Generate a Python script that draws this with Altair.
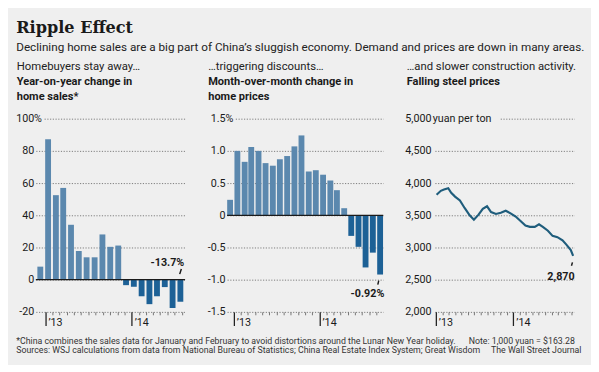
import altair as alt
import pandas as pd

# ---------------- data ----------------
sales_dates = ["2012-12-10", "2013-01-12", "2013-02-14", "2013-03-17", "2013-04-19",
               "2013-05-22", "2013-06-24", "2013-07-28", "2013-08-30", "2013-10-02",
               "2013-11-05", "2013-12-08", "2014-01-10", "2014-02-12", "2014-03-17",
               "2014-04-18", "2014-05-21", "2014-06-23", "2014-07-26"]
sales_values = [8.1, 87.3, 52.5, 57.0, 34.1, 17.8, 13.9, 13.9, 28.1, 20.4, 21.2,
                -3.4, -4.4, -10.3, -15.2, -10.3, -4.6, -17.6, -13.7]

price_dates = ["2012-12-16", "2013-01-16", "2013-02-16", "2013-03-16", "2013-04-16",
               "2013-05-16", "2013-06-16", "2013-07-16", "2013-08-16", "2013-09-16",
               "2013-10-16", "2013-11-16", "2013-12-16", "2014-01-16", "2014-02-16",
               "2014-03-16", "2014-04-16", "2014-05-16", "2014-06-16", "2014-07-16",
               "2014-08-16", "2014-09-16"]
price_values = [0.24, 1.00, 0.83, 1.06, 1.00, 0.81, 0.77, 0.87, 0.92, 1.07, 1.24,
                0.68, 0.70, 0.63, 0.54, 0.39, 0.11, -0.32, -0.49, -0.81, -0.58, -0.92]

steel_dates = ["2013-01-04", "2013-01-24", "2013-02-08", "2013-02-28", "2013-03-14",
               "2013-04-01", "2013-04-24", "2013-05-17", "2013-06-09", "2013-06-29",
               "2013-07-21", "2013-08-10", "2013-08-30", "2013-09-18", "2013-10-11",
               "2013-11-03", "2013-11-26", "2013-12-19", "2014-01-12", "2014-02-04",
               "2014-02-27", "2014-03-20", "2014-04-12", "2014-05-02", "2014-05-20",
               "2014-06-13", "2014-07-05", "2014-07-28", "2014-08-21", "2014-09-09",
               "2014-09-29", "2014-10-10"]
steel_values = [3820, 3880, 3900, 3920, 3850, 3790, 3730, 3610, 3500, 3430,
                3510, 3600, 3640, 3550, 3520, 3540, 3570, 3530, 3480, 3410,
                3340, 3320, 3320, 3360, 3320, 3260, 3180, 3160, 3110, 3040,
                2960, 2870]

sales_note = "-13.7%"
price_note = "-0.92%"
steel_note = "2,870"

sales_ticks = [-20, 0, 20, 40, 60, 80, 100]
price_ticks = [-1.5, -1.0, -0.5, 0, 0.5, 1.0, 1.5]
steel_ticks = [2000, 2500, 3000, 3500, 4000, 4500, 5000]
sales_unit = "%"
price_unit = "%"
steel_unit = "yuan per ton"

TITLE = "Ripple Effect"
SUBTITLE = ("Declining home sales are a big part of China\u2019s sluggish economy. "
            "Demand and prices are down in many areas.")
NBSP = "\u00a0"
FOOT1 = ("*China combines the sales data for January and February to avoid distortions "
         "around the Lunar New Year holiday." + NBSP * 6 + "Note: 1,000 yuan = $163.28")
FOOT2 = ("Sources: WSJ calculations from data from National Bureau of Statistics; "
         "China Real Estate Index System; Great Wisdom" + NBSP * 5 + "The Wall Street Journal")

# ---------------- style ----------------
FONT = "Roboto"
TITLE_FONT = "DejaVu Serif"
BG = "#efefef"
POS = "#5b88ae"
NEG = "#1d6196"
LINE = "#1f5d7c"
INK = "#1a1a1a"
GRID = "#7a7a7a"
DOT = [1.2, 1.6]
LABEL_SIZE = 11


def dt(s):
    y, m, d = (int(v) for v in s.split("-"))
    return alt.DateTime(year=y, month=m, date=d)


def month_ticks(last_year, last_month):
    out = []
    for y in (2013, 2014):
        for m in range(1, 13):
            if (y, m) <= (last_year, last_month):
                out.append(alt.DateTime(year=y, month=m, date=1))
    return out


def dash_with_gap(gap):
    return [0, gap] + DOT * 80


JAN = "month(datum.value) == 0"


def x_axis(last_year, last_month):
    return alt.Axis(
        values=month_ticks(last_year, last_month), tickCount=200,
        title=None, domain=False, grid=False, ticks=True, tickSize=14,
        tickDash={"condition": {"test": JAN, "value": [20, 0]}, "value": [3, 30]},
        tickColor={"condition": {"test": JAN, "value": "#222222"}, "value": "#666666"},
        tickWidth={"condition": {"test": JAN, "value": 1.3}, "value": 0.9},
        labelExpr=JAN + " ? '\u2019' + timeFormat(datum.value, '%y') : ''",
        labelAlign="left", labelBaseline="alphabetic", labelPadding=0, labelOffset=2.5,
        labelFont=FONT, labelFontSize=LABEL_SIZE, labelColor=INK,
        labelFlush=False, labelOverlap=False, labelBound=False,
    )


def y_axis(values, label_expr, top_value, top_gap, pad=2):
    test = f"datum.value == {top_value}"
    return alt.Axis(
        values=values, tickCount=200, title=None, domain=False,
        ticks=True, tickSize=0, tickOpacity=0,
        grid=True, gridColor=GRID, gridWidth=1,
        gridDash={"condition": {"test": test, "value": dash_with_gap(top_gap)}, "value": DOT},
        labelExpr=label_expr, labelAlign="right", labelPadding=pad,
        labelFont=FONT, labelFontSize=LABEL_SIZE, labelColor=INK, labelBaseline="middle",
        labelFlush=False, labelOverlap=False, labelBound=False,
    )


def panel_title(kicker, lines, dx):
    return alt.TitleParams(
        text=kicker, subtitle=lines, anchor="start", dx=dx,
        font=FONT, fontSize=11.6, fontWeight="normal", color="#222222",
        subtitleFont=FONT, subtitleFontSize=11.3, subtitleFontWeight="bold",
        subtitleColor=INK, subtitleLineHeight=15, subtitlePadding=4, offset=11,
    )


zero_df = pd.DataFrame({"value": [0]})
bar_color = alt.condition(alt.datum.value >= 0, alt.value(POS), alt.value(NEG))


def note_layers(df_last, dx, dy, p_off):
    txt = alt.Chart(df_last).mark_text(
        align="right", baseline="alphabetic", dx=dx, dy=dy,
        font=FONT, fontSize=11, fontWeight="bold", color=INK,
    ).encode(x="date:T", y="value:Q", text="label:N")
    ptr = alt.Chart(df_last).mark_rule(
        color=INK, strokeWidth=1.5,
        xOffset=p_off[0], yOffset=p_off[1], x2Offset=p_off[2], y2Offset=p_off[3],
    ).encode(x="date:T", x2=alt.X2("date"), y="value:Q", y2=alt.Y2("value"))
    return txt, ptr


def unit_layer(date, value, text, dx):
    df = pd.DataFrame({"date": [date], "value": [value], "label": [text]})
    return alt.Chart(df).mark_text(
        align="left", baseline="middle", dx=dx,
        font=FONT, fontSize=LABEL_SIZE, color=INK,
    ).encode(x="date:T", y="value:Q", text="label:N")


# ---------------- panel 1 ----------------
sales = pd.DataFrame({"date": sales_dates, "value": sales_values})
sales_last = sales.tail(1).assign(label=sales_note)
x1 = alt.X("date:T",
           scale=alt.Scale(domain=[dt("2012-11-21"), dt("2014-08-15")], padding=0),
           axis=x_axis(2014, 8))
y1 = alt.Y("value:Q", scale=alt.Scale(domain=[-20, 100], nice=False),
           axis=y_axis(sales_ticks, "replace(format(datum.value, 'd'), '\u2212', '-')",
                       100, 8.5))
bars1 = alt.Chart(sales).mark_bar(size=6).encode(x=x1, y=y1, color=bar_color)
zero1 = alt.Chart(zero_df).mark_rule(color=INK, strokeWidth=1.3).encode(y="value:Q")
t1, r1 = note_layers(sales_last, 4, -36.3, (1, -33.6, -0.7, -28.3))
u1 = unit_layer(sales_dates[0], sales_ticks[-1], sales_unit, -6.4)
p1 = alt.layer(bars1, zero1, u1, t1, r1).properties(
    width=153, height=198,
    title=panel_title("Homebuyers stay away\u2026", ["Year-on-year change in", "home sales*"], 1))

# ---------------- panel 2 ----------------
prices = pd.DataFrame({"date": price_dates, "value": price_values})
prices_last = prices.tail(1).assign(label=price_note)
x2 = alt.X("date:T",
           scale=alt.Scale(domain=[dt("2012-12-03"), dt("2014-09-29")], padding=0),
           axis=x_axis(2014, 9))
y2 = alt.Y("value:Q", scale=alt.Scale(domain=[-1.5, 1.5], nice=False),
           axis=y_axis(price_ticks,
                       "datum.value == 0 ? '0' : replace(format(datum.value, '.1f'), '\u2212', '-')",
                       1.5, 8.5))
bars2 = alt.Chart(prices).mark_bar(size=6).encode(x=x2, y=y2, color=bar_color)
zero2 = alt.Chart(zero_df).mark_rule(color=INK, strokeWidth=1.3).encode(y="value:Q")
t2, r2 = note_layers(prices_last, 4.3, 22.6, (-1.4, 6.3, -2.4, 10.3))
u2 = unit_layer(price_dates[0], price_ticks[-1], price_unit, -4.6)
p2 = alt.layer(bars2, zero2, u2, t2, r2).properties(
    width=160, height=198,
    title=panel_title("\u2026triggering discounts\u2026",
                      ["Month-over-month change in", "home prices"], 1))

# ---------------- panel 3 ----------------
steel = pd.DataFrame({"date": steel_dates, "value": steel_values})
steel_last = steel.tail(1).assign(label=steel_note)
x3 = alt.X("date:T",
           scale=alt.Scale(domain=[dt("2012-12-27"), dt("2014-10-16")], padding=0),
           axis=x_axis(2014, 10))
y3 = alt.Y("value:Q", scale=alt.Scale(domain=[2000, 5000], nice=False),
           axis=y_axis(steel_ticks, "format(datum.value, ',d')", 5000, 67, pad=4))
line3 = alt.Chart(steel).mark_line(color=LINE, strokeWidth=2.2).encode(x=x3, y=y3)
t3, r3 = note_layers(steel_last, 1.5, 24.4, (-0.7, 6.7, -1.7, 10.1))
u3 = unit_layer(steel_dates[0], steel_ticks[-1], steel_unit, -4)
p3 = alt.layer(line3, u3, t3, r3).properties(
    width=143, height=198,
    title=panel_title("\u2026and slower construction activity.",
                      ["Falling steel prices", NBSP], 2))

# ---------------- assembly ----------------
row = alt.hconcat(alt.hconcat(p1, p2, spacing=20), p3, spacing=19).properties(
    title=alt.TitleParams(
        text=[FOOT1, FOOT2], orient="bottom", anchor="start", dx=1,
        font=FONT, fontSize=9, fontWeight="normal", lineHeight=9.2,
        color="#333333", offset=9.5,
    )
)

chart = alt.vconcat(row).properties(
    title=alt.TitleParams(
        text=TITLE, subtitle=SUBTITLE, anchor="start", dx=1,
        font=TITLE_FONT, fontSize=16.5, fontWeight="bold", color=INK,
        subtitleFont=FONT, subtitleFontSize=12, subtitleColor="#222222",
        subtitlePadding=6.5, offset=7.5,
    )
).configure(
    background=BG,
    padding={"left": 6.5, "top": 8, "right": 5, "bottom": 5},
).configure_view(stroke="transparent")

chart.save("out.html", embed_options={"renderer": "svg", "actions": False})
